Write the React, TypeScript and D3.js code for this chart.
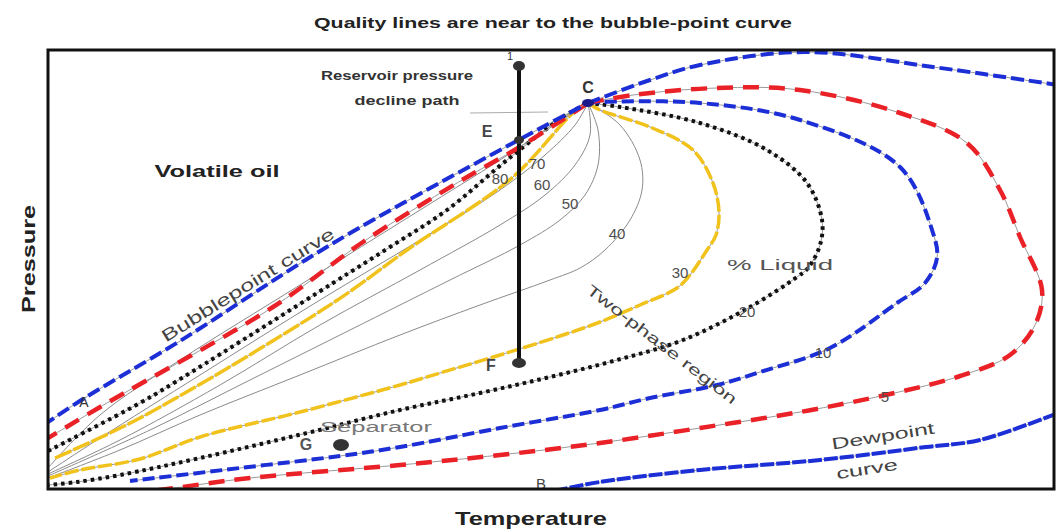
import * as d3 from 'd3'

type Pt = [number, number]

// temperature / pressure in arbitrary units
const bubbleCurve: Pt[] = [[-0.5, 6.4], [0, 6.7], [3.5, 9.0], [13.2, 14.8], [28.2, 24.4], [46.5, 34.6], [54, 38.6]]
const dewUpper: Pt[] = [[54, 38.6], [60.2, 40.9], [65.2, 42.4], [75.7, 43.7], [88.5, 42.2], [101, 40.4]]
const dewLower: Pt[] = [[50.6, -0.2], [55.2, 0.7], [65.2, 1.9], [77.2, 2.9], [87.8, 4.2], [93.2, 4.9], [101, 7.6]]

const redUpper: Pt[] = [[-0.5, 4.8], [0, 5.1], [5.9, 8.6], [22.5, 18.2], [31.5, 24.7], [40.9, 30.6], [47.5, 34.4], [54, 38.6]]
const redLoop: Pt[] = [[54, 38.6], [58.5, 39.4], [66.9, 40.1], [75.2, 39.9], [85.2, 37.6], [91.9, 34.6], [95.2, 29.9], [97.2, 25.2], [99.4, 19.9], [98.7, 16.4], [96.2, 13.4], [91.2, 11.3], [84.2, 9.5], [75.2, 7.7], [65.2, 6.1], [55.2, 4.6], [45.2, 3.4], [35.2, 2.4], [20.2, 1.1], [11.9, 0], [7, -0.6]]
const blueLoop: Pt[] = [[54, 38.6], [55.2, 38.7], [65.2, 38.6], [75.2, 36.9], [85.2, 32.2], [88.5, 25.6], [88.9, 23.1], [87.7, 20.6], [84.9, 18.6], [78.2, 14.1], [71.2, 11.7], [66.9, 10.4], [60.2, 9.1], [55.2, 7.9], [45.2, 6.1], [35.2, 4.2], [29.2, 3.3], [19.2, 2.1], [8.2, 0.8]]
const blackUpper: Pt[] = [[0, 3.8], [9.2, 8.6], [14.2, 11.6], [28.5, 20.6], [34.2, 24.2], [39.9, 27.9], [45.9, 32.9], [51.5, 37.2], [54, 38.6]]
const blackLoop: Pt[] = [[54, 38.6], [57.2, 38.2], [65.2, 36.6], [71.9, 33.9], [75.9, 30.6], [77.4, 26.9], [77.2, 24.4], [76, 22.1], [74.9, 21.2], [70.2, 18.2], [63.5, 14.9], [56.9, 12.9], [50.2, 11.2], [43.2, 9.6], [35.2, 7.9], [25.9, 5.6], [15.2, 3.1], [7.2, 1.4], [2.9, 0.7], [0, 0.4]]
const yellowUpper: Pt[] = [[0.7, 3.1], [9.2, 7.1], [28.5, 18.6], [35.9, 23.9], [46.5, 31.2], [52.5, 37.6], [54, 38.6]]
const yellowLoop: Pt[] = [[54, 38.6], [55.2, 37.9], [60.2, 36.2], [64.5, 33.9], [66.5, 30.6], [67.1, 27.7], [66.8, 25.4], [65.9, 23.9], [64.2, 21.4], [62.9, 20.1], [59.2, 18.4], [55.2, 16.7], [51.2, 15.3], [45.2, 13.4], [39.2, 11.6], [35.2, 10.4], [25.2, 7.7], [15.2, 5.2], [9.2, 3.0], [3.2, 1.9], [0.2, 1.1]]

const greyLines: Pt[][] = [
  [[54, 38.6], [57.2, 36.4], [59.2, 32.9], [59.4, 29.9], [58.2, 26.9], [55.7, 23.9], [53.2, 22.1], [50.2, 20.9], [43.2, 18.4], [35.2, 15.4], [25.2, 11.4], [15.2, 7.4], [7.2, 3.9], [0, 1.1]],
  [[54, 38.6], [55, 35.9], [55, 32.4], [53.7, 29.4], [51.2, 26.9], [47.2, 24.4], [40.2, 20.9], [30.2, 15.9], [20.2, 10.9], [10.2, 5.9], [0, 1.3]],
  [[54, 38.6], [54.2, 35.4], [52.7, 32.4], [49.7, 29.4], [45.2, 26.4], [37.2, 21.9], [27.2, 16.4], [17.2, 10.4], [7.2, 4.9], [0, 1.5]],
  [[54, 38.6], [52.7, 36.4], [49.7, 33.4], [45.2, 29.9], [37.2, 24.9], [27.2, 18.9], [15.2, 11.4], [5.2, 5.1], [0, 1.7]],
  [[54, 38.6], [51.2, 36.9], [45.2, 32.9], [37.2, 27.9], [25.2, 20.4], [13.2, 12.9], [5.2, 7.4], [0, 2.1]],
]

const qualityLabels = ['80', '70', '60', '50', '40', '30', '20', '10', '5']
const qualityLabelPos: Pt[] = [[45.2, 31.1], [48.9, 32.6], [49.4, 30.5], [52.2, 28.6], [56.9, 25.6], [63.2, 21.7], [69.9, 17.8], [77.5, 13.7], [83.7, 9.3]]

const reservoirT = 47.1
const reservoirTop = 42.3
const reservoirBottom = 12.6
const pointE: Pt = [47.1, 34.9]
const separatorPt: Pt = [29.3, 4.4]

const W = 1057
const H = 531
const frame = { left: 48, right: 1054, top: 50, bottom: 489 }

const BLUE = '#1c2ed6'
const RED = '#ea2127'
const YELLOW = '#f1c21b'
const FONT = 'Liberation Sans, Arial, sans-serif'

export default function App() {
  const x = d3.scaleLinear().domain([0, 100.6]).range([frame.left, frame.right])
  const y = d3.scaleLinear().domain([0, 43.9]).range([frame.bottom, frame.top])
  const line = d3.line<Pt>()
    .x(d => x(d[0]))
    .y(d => y(d[1]))
    .curve(d3.curveCatmullRom.alpha(0.5))

  const colored = (pts: Pt[], color: string, width: number, dash: string, cap: 'butt' | 'round' = 'butt') => (
    <g>
      <path d={line(pts) || ''} fill="none" stroke="#9a9a9a" strokeWidth={1} />
      <path d={line(pts) || ''} fill="none" stroke={color} strokeWidth={width} strokeDasharray={dash} strokeLinecap={cap} />
    </g>
  )

  const label = (text: string, p: Pt, size: number, opts: { bold?: boolean; color?: string; rotate?: number; len?: number } = {}) => (
    <text
      transform={`translate(${x(p[0])},${y(p[1])}) rotate(${opts.rotate || 0})`}
      textAnchor="middle"
      dominantBaseline="central"
      fontFamily={FONT}
      fontSize={size}
      fontWeight={opts.bold ? 'bold' : 'normal'}
      fill={opts.color || '#4a4a4a'}
      textLength={opts.len}
      lengthAdjust={opts.len ? 'spacingAndGlyphs' : undefined}
    >
      {text}
    </text>
  )

  return (
    <>
      <style>{'body{margin:0}'}</style>
      <svg width={W} height={H} style={{ display: 'block', background: '#fff' }}>
        <defs>
          <clipPath id="plot-clip">
            <rect x={frame.left} y={frame.top} width={frame.right - frame.left} height={frame.bottom - frame.top} />
          </clipPath>
        </defs>

        <text x={553} y={22} textAnchor="middle" dominantBaseline="central" fontFamily={FONT} fontSize={15}
          fontWeight="bold" fill="#222" textLength={478} lengthAdjust="spacingAndGlyphs">
          Quality lines are near to the bubble-point curve
        </text>

        <g clipPath="url(#plot-clip)">
          {greyLines.map((g, i) => (
            <path key={i} d={line(g) || ''} fill="none" stroke="#8a8a8a" strokeWidth={1} />
          ))}
          {colored(yellowUpper, YELLOW, 3.5, '18,2')}
          {colored(yellowLoop, YELLOW, 3.5, '14,3')}
          {colored(blackUpper, '#111', 4, '3.5,4')}
          {colored(blackLoop, '#111', 4, '3.5,4')}
          {colored(blueLoop, BLUE, 4, '12,5')}
          {colored(redUpper, RED, 4.5, '16,10')}
          {colored(redLoop, RED, 4.5, '16,10')}
          {colored(bubbleCurve, BLUE, 4, '13,5')}
          {colored(dewUpper, BLUE, 4, '13,5')}
          {colored(dewLower, BLUE, 4, '14,2')}
        </g>

        {/* reservoir pressure decline path */}
        <line x1={x(42.2)} x2={x(50)} y1={y(37.6)} y2={y(37.7)} stroke="#aaa" strokeWidth={1} />
        <line x1={x(reservoirT)} x2={x(reservoirT)} y1={y(reservoirTop)} y2={y(reservoirBottom)} stroke="#111" strokeWidth={4} />
        <ellipse cx={x(reservoirT)} cy={y(reservoirTop)} rx={6} ry={5} fill="#333" />
        <ellipse cx={x(reservoirT)} cy={y(reservoirBottom)} rx={7} ry={5} fill="#333" />
        <ellipse cx={x(pointE[0])} cy={y(pointE[1])} rx={5} ry={4} fill="#333" />
        <ellipse cx={x(separatorPt[0])} cy={y(separatorPt[1])} rx={8} ry={6} fill="#333" />
        <ellipse cx={x(54)} cy={y(38.6)} rx={6} ry={4} fill="#1a1a8a" />

        {qualityLabels.map((t, i) => (
          <g key={t}>{label(t, qualityLabelPos[i], 15, { color: '#4d4d4d' })}</g>
        ))}

        {label('C', [54, 40.2], 16, { bold: true, color: '#333' })}
        {label('E', [43.9, 35.8], 16, { bold: true, color: '#444' })}
        {label('F', [44.3, 12.4], 16, { bold: true, color: '#444' })}
        {label('1', [46.2, 43.3], 11, { color: '#333' })}
        {label('G', [25.8, 4.5], 16, { bold: true, color: '#555' })}
        {label('B', [49.3, 0.6], 15, { color: '#444' })}
        {label('A', [3.6, 8.7], 14, { color: '#333' })}
        {label('Separator', [32.8, 6.2], 14, { color: '#777', len: 112 })}
        {label('% Liquid', [73.2, 22.4], 14, { color: '#555', len: 106 })}
        {label('Two-phase region', [61.4, 14.5], 15, { color: '#444', rotate: 37.6, len: 185 })}
        {label('Bubblepoint curve', [20, 20.4], 17, { color: '#444', rotate: -31.9, len: 200 })}
        {label('Dewpoint', [83.5, 5.3], 16, { color: '#444', rotate: -9, len: 104 })}
        {label('curve', [81.9, 2.0], 16, { color: '#444', rotate: -9, len: 62 })}
        {label('Volatile oil', [16.9, 31.8], 17, { bold: true, color: '#222', len: 125 })}
        {label('Reservoir pressure', [34.9, 41.4], 13, { bold: true, color: '#333', len: 152 })}
        {label('decline path', [35.9, 38.9], 13, { bold: true, color: '#333', len: 105 })}

        <rect x={frame.left} y={frame.top} width={frame.right - frame.left} height={frame.bottom - frame.top}
          fill="none" stroke="#111" strokeWidth={3} />

        <text x={531} y={518} textAnchor="middle" dominantBaseline="central" fontFamily={FONT} fontSize={19}
          fontWeight="bold" fill="#222" textLength={152} lengthAdjust="spacingAndGlyphs">
          Temperature
        </text>
        <text transform="translate(29,259) rotate(-90)" textAnchor="middle" dominantBaseline="central" fontFamily={FONT}
          fontSize={18} fontWeight="bold" fill="#222" textLength={108} lengthAdjust="spacingAndGlyphs">
          Pressure
        </text>
      </svg>
    </>
  )
}
